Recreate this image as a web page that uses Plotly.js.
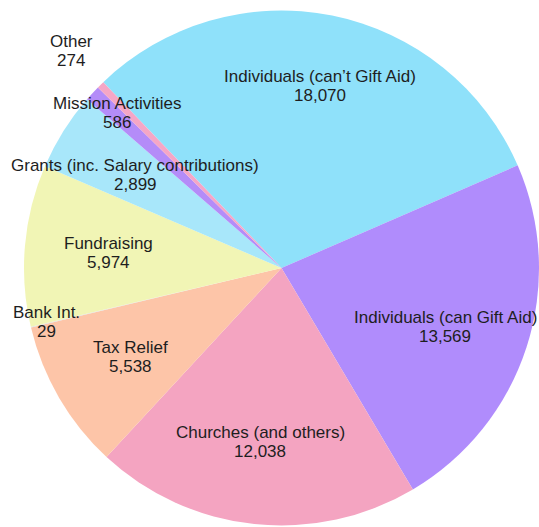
<!DOCTYPE html>
<html>
<head>
<meta charset="utf-8">
<script src="https://cdn.plot.ly/plotly-3.0.1.min.js"></script>
<style>html,body{margin:0;padding:0;background:#fff;overflow:hidden;}#chart{width:539px;height:527px;}</style>
</head>
<body>
<div id="chart"></div>
<script>
// Data
const categories = [
  "Individuals (can\u2019t Gift Aid)",
  "Individuals (can Gift Aid)",
  "Churches (and others)",
  "Tax Relief",
  "Bank Int.",
  "Fundraising",
  "Grants (inc. Salary contributions)",
  "Mission Activities",
  "Other"
];
const values = [18070, 13569, 12038, 5538, 29, 5974, 2899, 586, 274];

// Styles
const colors = ["#8fe1fa", "#b08cfc", "#f4a4c1", "#fdc5a8", "#e0e0e0", "#f1f5b5", "#a8e7fa", "#b48cf8", "#f5a6c6"];
// Label anchor positions in pixels (centre of the two-line label)
const labelPos = [
  [320, 86], [445, 327], [260, 442], [130, 357], [46, 322],
  [108, 253], [135, 175], [117, 113], [71, 51]
];
const lineGap = 19;

const W = 539, H = 527;
const fmt = v => v.toLocaleString("en-US");

const trace = {
  type: "pie",
  labels: categories,
  values: values,
  sort: false,
  direction: "clockwise",
  rotation: -43.8,
  marker: { colors: colors, line: { width: 0 } },
  textinfo: "none",
  hoverinfo: "none",
  showlegend: false,
  domain: { x: [24 / W, 1], y: [1 - 526 / H, 1 - 10 / H] }
};

const font = { family: "Liberation Sans, Arial, sans-serif", size: 17, color: "#1e1e1e" };
const annotations = [];
categories.forEach((c, i) => {
  const [px, py] = labelPos[i];
  [c, fmt(values[i])].forEach((t, k) => {
    annotations.push({
      xref: "paper", yref: "paper",
      x: px / W, y: 1 - (py + (k === 0 ? -lineGap / 2 : lineGap / 2)) / H,
      xanchor: "center", yanchor: "middle",
      text: t, showarrow: false, font: font
    });
  });
});

const layout = {
  width: W, height: H,
  margin: { l: 0, r: 0, t: 0, b: 0 },
  paper_bgcolor: "#ffffff",
  annotations: annotations,
  showlegend: false
};

Plotly.newPlot("chart", [trace], layout, { displayModeBar: false, staticPlot: true });
</script>
</body>
</html>
